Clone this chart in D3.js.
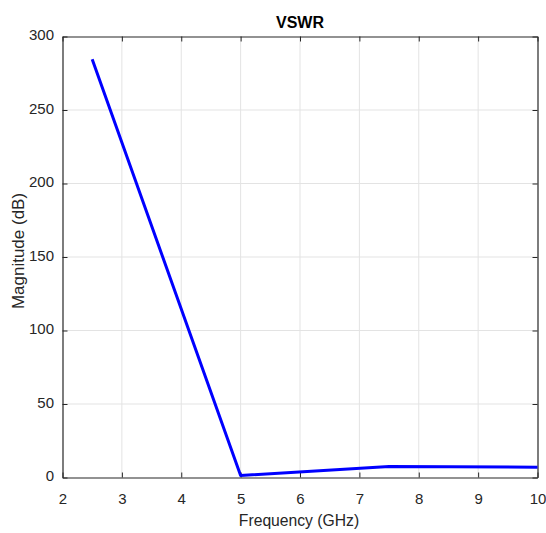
<!DOCTYPE html>
<html><head><meta charset="utf-8">
<script src="https://cdn.jsdelivr.net/npm/d3@7"></script>
<style>body{margin:0;background:#fff;}svg{display:block;font-family:"Liberation Sans",Arial,sans-serif;}</style>
</head><body>
<script>
const freq = [2.5, 5, 7.5, 10];
const vswr = [284.5, 1.4, 7.5, 7.0];
const xTicks = [2,3,4,5,6,7,8,9,10];
const yTicks = [0,50,100,150,200,250,300];
const title = "VSWR";
const xLabel = "Frequency (GHz)";
const yLabel = "Magnitude (dB)";

const W=546,H=533, L=62.5, R=537.5, T=36.5, B=477.5;
const svg=d3.select("body").append("svg").attr("width",W).attr("height",H);
const x=d3.scaleLinear().domain([2,10]).range([L,R]);
const y=d3.scaleLinear().domain([0,300]).range([B,T]);
const grid="#e3e3e3", ax="#262626";
// grid
svg.append("g").selectAll("line").data(xTicks.slice(1,-1)).join("line")
 .attr("x1",d=>x(d)).attr("x2",d=>x(d)).attr("y1",T).attr("y2",B).attr("stroke",grid).attr("stroke-width",1);
svg.append("g").selectAll("line").data(yTicks.slice(1,-1)).join("line")
 .attr("y1",d=>y(d)).attr("y2",d=>y(d)).attr("x1",L).attr("x2",R).attr("stroke",grid).attr("stroke-width",1);
// axes
const fmt=d3.format("d");
const gB=svg.append("g").attr("transform",`translate(0,${B})`).call(d3.axisBottom(x).tickValues(xTicks).tickFormat(fmt).tickSizeInner(-5).tickSizeOuter(0).tickPadding(16));
const gT=svg.append("g").attr("transform",`translate(0,${T})`).call(d3.axisTop(x).tickValues(xTicks).tickFormat("").tickSizeInner(-5).tickSizeOuter(0));
const gL=svg.append("g").attr("transform",`translate(${L},0)`).call(d3.axisLeft(y).tickValues(yTicks).tickFormat(fmt).tickSizeInner(-5).tickSizeOuter(0).tickPadding(8.5));
const gR=svg.append("g").attr("transform",`translate(${R},0)`).call(d3.axisRight(y).tickValues(yTicks).tickFormat("").tickSizeInner(-5).tickSizeOuter(0));
[gB,gT,gL,gR].forEach(g=>{g.selectAll("path").attr("stroke",ax).attr("stroke-width",1.2);
 g.selectAll("line").attr("stroke",ax);
 g.selectAll("text").attr("fill",ax).style("font-size","15px").style("font-family","'Liberation Sans',Arial,sans-serif");});
gL.selectAll("text").attr("dy","0.2em");
// line
svg.append("path").datum(freq.map((f,i)=>[f,vswr[i]]))
 .attr("d",d3.line().x(d=>x(d[0])).y(d=>y(d[1])))
 .attr("fill","none").attr("stroke","#0000ff").attr("stroke-width",3).attr("stroke-linejoin","round");
// labels
svg.append("text").attr("x",(L+R)/2).attr("y",28).attr("text-anchor","middle").attr("font-weight","bold").attr("font-size","16px").attr("fill","#000").text(title);
svg.append("text").attr("x",299).attr("y",526).attr("text-anchor","middle").attr("font-size","15.7px").attr("fill",ax).text(xLabel);
svg.append("text").attr("transform",`translate(24,251) rotate(-90)`).attr("text-anchor","middle").attr("font-size","17px").attr("fill",ax).text(yLabel);
</script>
</body></html>
